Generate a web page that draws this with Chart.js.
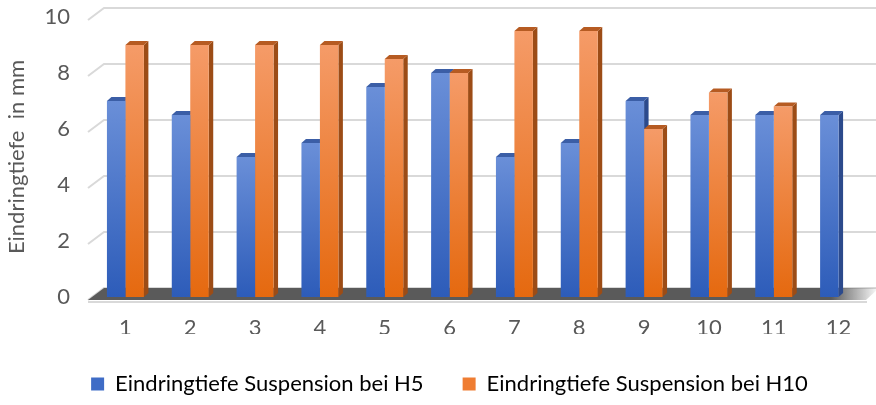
<!DOCTYPE html>
<html>
<head>
<meta charset="utf-8">
<script src="https://cdn.jsdelivr.net/npm/chart.js@4/dist/chart.umd.min.js"></script>
<style>
  html, body { margin: 0; padding: 0; background: #fff; }
  #wrap { width: 876px; height: 405px; }
</style>
</head>
<body>
<div id="wrap"><canvas id="chart1"></canvas></div>
<script>
// Werte
const labels = ['1', '2', '3', '4', '5', '6', '7', '8', '9', '10', '11', '12']
const h5 = [7, 6.5, 5, 5.5, 7.5, 8, 5, 5.5, 7, 6.5, 6.5, 6.5]
const h10 = [9, 9, 9, 9, 8.5, 8, 9.5, 9.5, 6, 7.3, 6.8, null]
const yTicks = [0, 2, 4, 6, 8, 10]

const FONT = 'Lato'
const textColor = '#595959'

// Farben: [oben, unten, Seite, Deckel]
const blue = ['#6a8fd8', '#2d5cb9', '#2c4a8c', '#3b5ea6']
const orange = ['#f59b68', '#e5690f', '#9c4c16', '#b65b22']

// depth of the bars (3D look)
const DX = 4.5
const DY = -4

function barGradient(pal) {
    return (ctx) => {
        const chart = ctx.chart
        if (!chart.chartArea || ctx.raw == null) return pal[1]
        const y = chart.scales.y
        const g = chart.ctx.createLinearGradient(0, y.getPixelForValue(ctx.raw), 0, y.getPixelForValue(0))
        g.addColorStop(0, pal[0])
        g.addColorStop(1, pal[1])
        return g
    }
}

function poly(c, pts, fill) {
    c.beginPath()
    c.moveTo(pts[0][0], pts[0][1])
    for (let i = 1; i < pts.length; i++) c.lineTo(pts[i][0], pts[i][1])
    c.closePath()
    c.fillStyle = fill
    c.fill()
}

// back wall, side wall, floor and the side/top faces of the bars
const walls3d = {
    id: 'walls3d',
    beforeDatasetsDraw(chart) {
        const c = chart.ctx
        const a = chart.chartArea
        const y = chart.scales.y
        const y0 = y.getPixelForValue(0)
        c.save()
        c.lineWidth = 2
        c.strokeStyle = '#d9d9d9'
        yTicks.forEach(v => {
            const p = y.getPixelForValue(v)
            c.beginPath()
            c.moveTo(a.left - 5, p + 3)
            c.lineTo(a.left + 11, p - 9)
            c.lineTo(876, p - 9)
            c.stroke()
        })
        // floor
        c.beginPath()
        c.moveTo(a.left - 5, y0 + 5)
        c.lineTo(a.right - 4, y0 + 5)
        c.strokeStyle = '#d9d9d9'
        c.lineWidth = 2
        c.stroke()
        const fg = c.createLinearGradient(a.right - 40, 0, a.right + 8, 0)
        fg.addColorStop(0, '#5a5a5a')
        fg.addColorStop(1, 'rgba(90,90,90,0)')
        poly(c, [[a.left + 11, y0 - 9], [a.right - 40, y0 - 9], [a.right - 40, y0 + 3], [a.left - 5, y0 + 3]], '#5a5a5a')
        poly(c, [[a.right - 41, y0 - 9], [a.right + 8, y0 - 9], [a.right - 5, y0 + 3], [a.right - 41, y0 + 3]], fg)

        // side and top faces, drawn before the front faces
        const n = labels.length
        for (let i = 0; i < n; i++) {
            [[0, blue], [1, orange]].forEach(([d, pal]) => {
                const el = chart.getDatasetMeta(d).data[i]
                if (!el || chart.data.datasets[d].data[i] == null) return
                const l = el.x - el.width / 2
                const r = el.x + el.width / 2
                poly(c, [[r, el.y], [r + DX, el.y + DY], [r + DX, el.base + DY], [r, el.base]], pal[2])
                poly(c, [[l, el.y], [l + DX, el.y + DY], [r + DX, el.y + DY], [r, el.y]], pal[3])
            })
        }
        c.restore()
    }
}

const data = {
    labels: labels,
    datasets: [{
        label: 'Eindringtiefe Suspension bei H5',
        data: h5,
        backgroundColor: barGradient(blue),
        borderWidth: 0
    }, {
        label: 'Eindringtiefe Suspension bei H10',
        data: h10,
        backgroundColor: barGradient(orange),
        borderWidth: 0
    }]
}

let options = {
    responsive: false,
    animation: false,
    layout: { padding: { top: 17, right: 5, bottom: 0, left: 28 } },
    categoryPercentage: 0.57,
    barPercentage: 1,
    scales: {
        x: {
            grid: { display: false },
            border: { display: false },
            ticks: { color: textColor, font: { family: FONT, size: 22 }, padding: 10, maxRotation: 0 },
            afterFit: s => {
                s.height = 37
                s.paddingLeft = 0
                s.paddingRight = 0
            }
        },
        y: {
            min: 0,
            max: 10,
            grid: { display: false },
            border: { display: false },
            ticks: { stepSize: 2, color: textColor, font: { family: FONT, size: 22 }, padding: 15 },
            title: {
                display: true,
                text: 'Eindringtiefe  in mm',
                color: textColor,
                font: { family: FONT, size: 22 },
                padding: { top: -24, bottom: 0 }
            },
            afterFit: s => {
                s.width = 65
                s.paddingTop = 0
                s.paddingBottom = 0
            }
        }
    },
    plugins: {
        legend: {
            position: 'bottom',
            labels: {
                color: textColor,
                font: { family: FONT, size: 22 },
                boxWidth: 13,
                boxHeight: 13,
                padding: 39,
                generateLabels: () => [
                    { text: data.datasets[0].label, fillStyle: '#3f6cc6', strokeStyle: '#3f6cc6', lineWidth: 0, datasetIndex: 0 },
                    { text: data.datasets[1].label, fillStyle: '#ef7d32', strokeStyle: '#ef7d32', lineWidth: 0, datasetIndex: 1 }
                ]
            }
        },
        tooltip: { enabled: false }
    }
}

const cv = document.getElementById('chart1')
cv.width = 876
cv.height = 405
new Chart(cv, { type: 'bar', data, options, plugins: [walls3d] })
</script>
</body>
</html>
